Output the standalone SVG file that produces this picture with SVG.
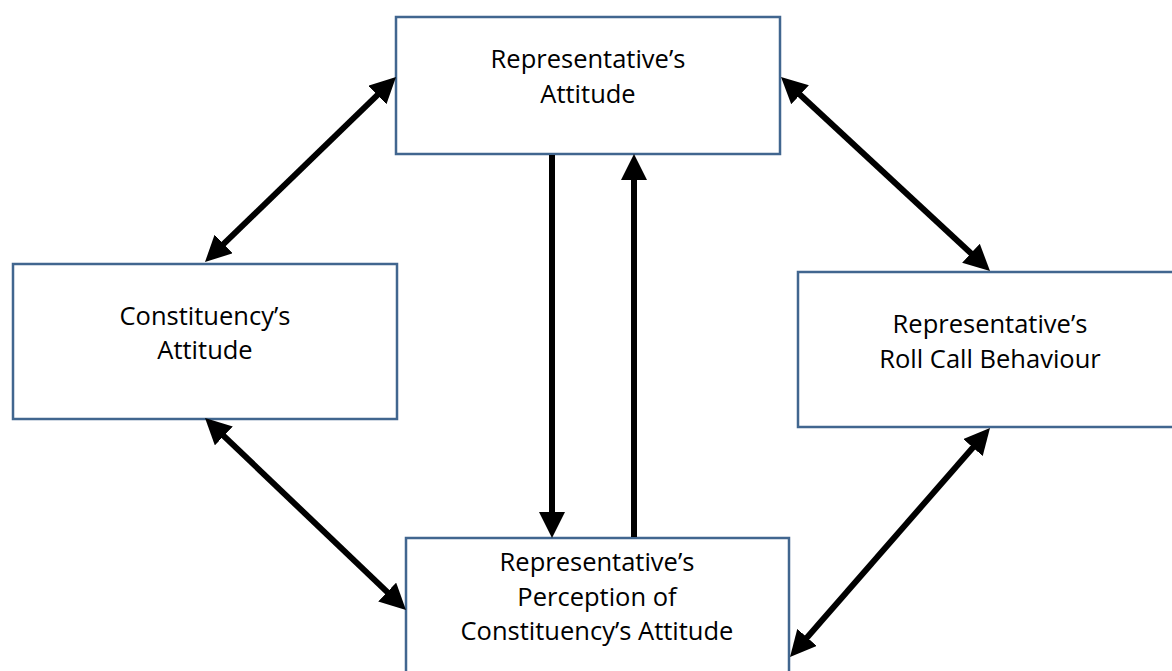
<svg xmlns="http://www.w3.org/2000/svg" width="1172" height="671" viewBox="0 0 1172 671">
<defs>
<marker id="ah" viewBox="0 0 26 26" markerWidth="26" markerHeight="26" refX="14" refY="13" markerUnits="userSpaceOnUse" orient="auto-start-reverse">
<path d="M0,0 L26,13 L0,26 z" fill="#000"/>
</marker>
<style>
.box{fill:#fff;stroke:#41668f;stroke-width:2.5}
.lbl{font-family:"Open Sans","Liberation Sans",sans-serif;font-size:25.5px;fill:#000;text-anchor:middle}
.c{stroke:#000;stroke-width:6;fill:none}
</style>
</defs>
<rect width="1172" height="671" fill="#fff"/>
<g id="n-rep-attitude">
<rect class="box" x="396" y="17" width="384" height="137"/>
<text class="lbl" x="588" y="68">Representative’s</text>
<text class="lbl" x="588" y="103">Attitude</text>
</g>
<g id="n-const-attitude">
<rect class="box" x="13" y="264" width="384" height="155"/>
<text class="lbl" x="205" y="325">Constituency’s</text>
<text class="lbl" x="205" y="359">Attitude</text>
</g>
<g id="n-rollcall">
<rect class="box" x="798" y="272" width="386" height="155"/>
<text class="lbl" x="990" y="333">Representative’s</text>
<text class="lbl" x="990" y="368">Roll Call Behaviour</text>
</g>
<g id="n-perception">
<rect class="box" x="406" y="538" width="383" height="140"/>
<text class="lbl" x="597" y="571">Representative’s</text>
<text class="lbl" x="597" y="606">Perception of</text>
<text class="lbl" x="597" y="640">Constituency’s Attitude</text>
</g>
<g id="connectors">
<line class="c" x1="387.4" y1="85.3" x2="213.6" y2="253.7" marker-start="url(#ah)" marker-end="url(#ah)"/>
<line class="c" x1="789.8" y1="85.2" x2="981.2" y2="262.8" marker-start="url(#ah)" marker-end="url(#ah)"/>
<line class="c" x1="213.7" y1="426.3" x2="397.3" y2="601.7" marker-start="url(#ah)" marker-end="url(#ah)"/>
<line class="c" x1="982.1" y1="437.0" x2="797.9" y2="648.0" marker-start="url(#ah)" marker-end="url(#ah)"/>
<line class="c" x1="552" y1="155" x2="552" y2="526" marker-end="url(#ah)"/>
<line class="c" x1="634" y1="537" x2="634" y2="166" marker-end="url(#ah)"/>
</g>
</svg>
